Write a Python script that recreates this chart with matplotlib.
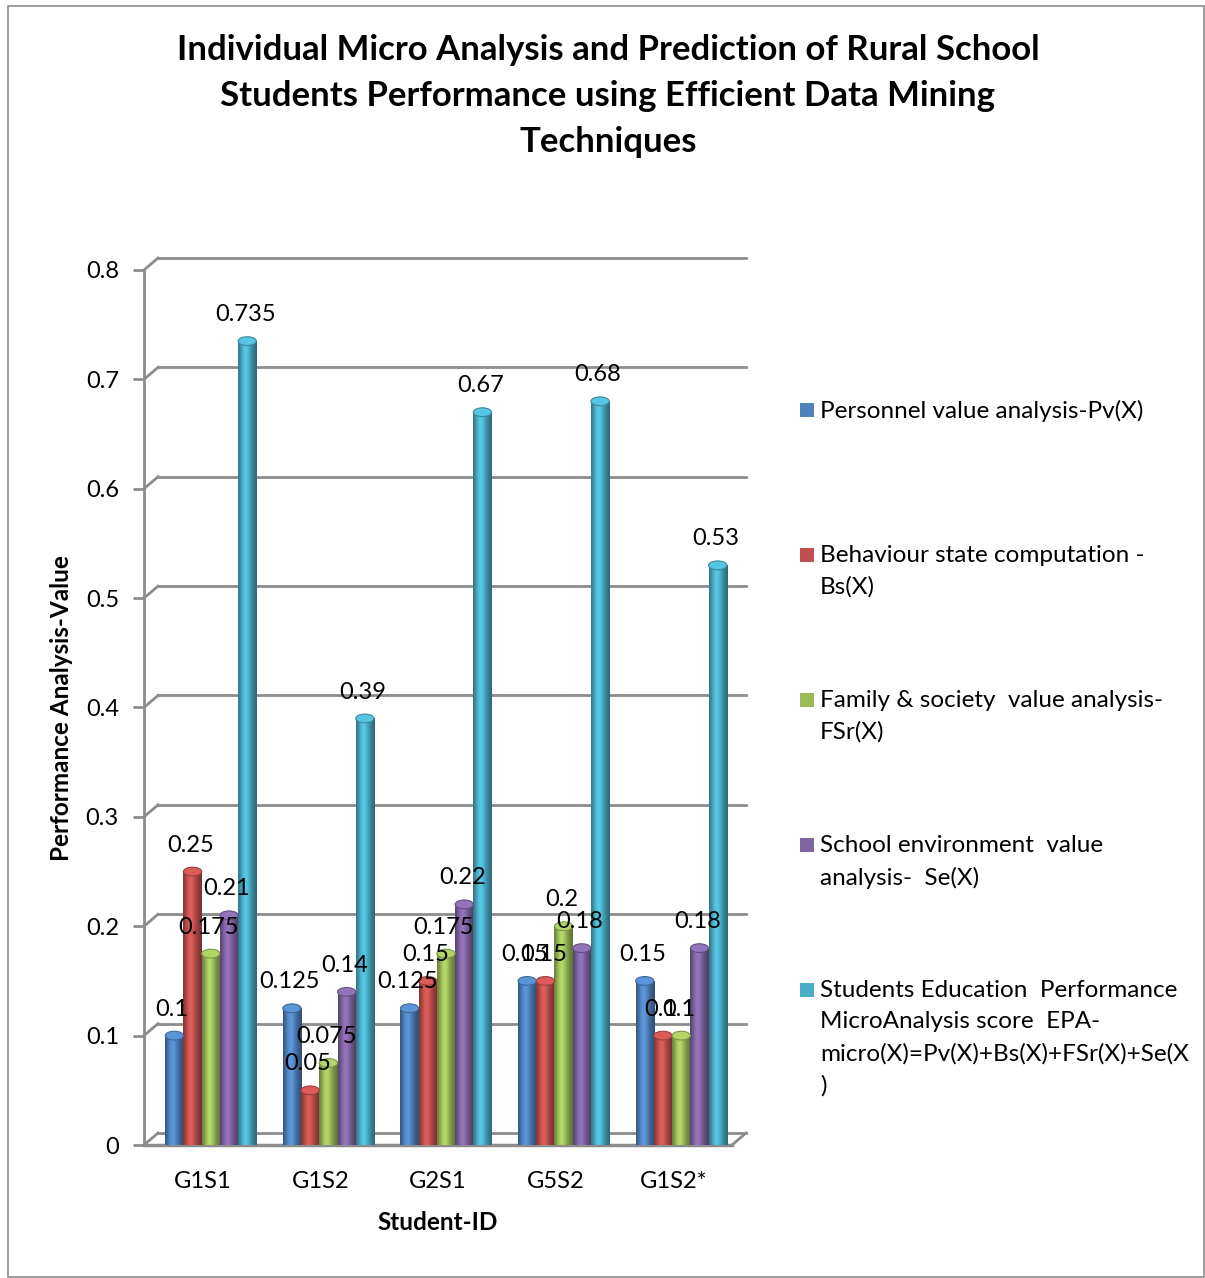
import numpy as np
import matplotlib
matplotlib.use("Agg")
import matplotlib.pyplot as plt
import matplotlib.transforms as mtransforms
from matplotlib.patches import Rectangle, Ellipse
from matplotlib.colors import to_rgb

# ---------------- data ----------------
categories = ["G1S1", "G1S2", "G2S1", "G5S2", "G1S2*"]
series_names = [
    "Personnel value analysis-Pv(X)",
    "Behaviour state computation -\nBs(X)",
    "Family & society  value analysis-\nFSr(X)",
    "School environment  value\nanalysis-  Se(X)",
    "Students Education  Performance\nMicroAnalysis score  EPA-\nmicro(X)=Pv(X)+Bs(X)+FSr(X)+Se(X\n)",
]
pv = [0.1, 0.125, 0.125, 0.15, 0.15]
bs = [0.25, 0.05, 0.15, 0.15, 0.1]
fsr = [0.175, 0.075, 0.175, 0.2, 0.1]
se = [0.21, 0.14, 0.22, 0.18, 0.18]
epa = [0.735, 0.39, 0.67, 0.68, 0.53]
series = [pv, bs, fsr, se, epa]
colors = ["#4F81BD", "#C0504D", "#9BBB59", "#8064A2", "#4BACC6"]
yticks = [0, 0.1, 0.2, 0.3, 0.4, 0.5, 0.6, 0.7, 0.8]
ytick_labels = ["0", "0.1", "0.2", "0.3", "0.4", "0.5", "0.6", "0.7", "0.8"]
title = ("Individual Micro Analysis and Prediction of Rural School\n"
         "Students Performance using Efficient Data Mining\nTechniques")

# ---------------- figure ----------------
W, H = 1205, 1278
DPI = 100
plt.rcParams["font.family"] = ["Lato", "DejaVu Sans"]
fig = plt.figure(figsize=(W / DPI, H / DPI), dpi=DPI)

def fx(px):
    return px / W

def fy(py):
    return 1 - py / H

# outer border
fig.patches.append(Rectangle((fx(8), fy(1277)), fx(1204) - fx(8), fy(6) - fy(1277),
                             transform=fig.transFigure, fill=False,
                             edgecolor="#8c8c8c", linewidth=1.2))

ax_l, ax_r, ax_t, ax_b = 144, 732, 270, 1145
ax = fig.add_axes([fx(ax_l), fy(ax_b), fx(ax_r) - fx(ax_l), fy(ax_t) - fy(ax_b)])
ax.set_facecolor("none")

n = len(categories)
nser = len(series)
ax.set_xlim(-0.5, n - 0.5)
ax.set_ylim(0, 0.8)

grid_col = "#8c8c8c"
w = 0.155
shift = 0.068  # depth shift of bars relative to category labels
DX, DY = 14, 12  # 3-D depth offset in pixels

# 3-D style wall/floor
back = mtransforms.offset_copy(ax.get_yaxis_transform(), fig=fig, x=DX / DPI, y=DY / DPI, units="inches")
front = ax.get_yaxis_transform()
for yv in yticks:
    ax.plot([0, 1], [yv, yv], transform=back, color=grid_col, lw=2, clip_on=False, zorder=1)

def fig_line(p0, p1, lw=2):
    fig.add_artist(plt.Line2D([p0[0] / W, p1[0] / W], [p0[1] / H, p1[1] / H],
                              transform=fig.transFigure, color=grid_col, lw=lw, zorder=1))

for yv in yticks:
    fig_line(front.transform((0, yv)), back.transform((0, yv)))
# floor front edge and right diagonal
ax.plot([0, 1], [0, 0], transform=front, color=grid_col, lw=2.5, clip_on=False, zorder=1)
fig_line(front.transform((1, 0)), back.transform((1, 0)))

# bars with cylinder-like shading
profile = np.array([0.70, 0.85, 1.0, 1.12, 1.18, 1.12, 1.0, 0.88, 0.78, 0.70, 0.62])
for j, (vals, col) in enumerate(zip(series, colors)):
    base = np.array(to_rgb(col))
    grad = np.clip(base[None, :] * profile[:, None], 0, 1)[None, :, :]
    xs = np.arange(n) + (j - (nser - 1) / 2) * w + shift
    bars = ax.bar(xs, vals, width=w, color=col, edgecolor="none", zorder=3)
    for b, v in zip(bars, vals):
        x0 = b.get_x()
        im = ax.imshow(grad, extent=[x0, x0 + w, 0, v], aspect="auto",
                       interpolation="bicubic", zorder=3.5)
        im.set_clip_path(b)
        top = np.clip(base * 1.15, 0, 1)
        ax.add_patch(Ellipse((x0 + w / 2, v), w, 0.008, facecolor=top,
                             edgecolor=np.clip(base * 0.8, 0, 1), lw=0.8, zorder=4))
        ax.annotate(f"{v:g}", (x0 + w / 2, v), xytext=(-1.5, 19), textcoords="offset points",
                    ha="center", va="center", fontsize=17, color="black", zorder=6)

ax.set_xlim(-0.5, n - 0.5)
ax.set_ylim(0, 0.8)
ax.set_xticks(range(n))
ax.set_xticklabels(categories, fontsize=17)
ax.set_yticks(yticks)
ax.set_yticklabels(ytick_labels, fontsize=17)
ax.tick_params(axis="x", length=0, pad=19)
ax.tick_params(axis="y", length=8, width=2, color=grid_col, pad=10)
for s in ["top", "right", "bottom"]:
    ax.spines[s].set_visible(False)
ax.spines["left"].set_color(grid_col)
ax.spines["left"].set_linewidth(2)

fig.text(fx(438), fy(1222), "Student-ID", ha="center", va="center", fontsize=17.5, fontweight="bold")
fig.text(fx(62), fy(708), "Performance Analysis-Value", ha="center", va="center",
         rotation=90, fontsize=17.5, fontweight="bold")
fig.text(fx(608), fy(96), title, ha="center", va="center", fontsize=25,
         fontweight="bold", linespacing=1.52)

# legend
leg_y = [410, 555, 700, 845, 990]
for name, col, yy in zip(series_names, colors, leg_y):
    fig.patches.append(Rectangle((fx(800), fy(yy + 7)), fx(14), 14 / H,
                                 transform=fig.transFigure, facecolor=col, edgecolor="none"))
    fig.text(fx(820), fy(yy - 10), name, ha="left", va="top", fontsize=17.5, linespacing=1.6)

fig.savefig("out.png", dpi=DPI)
